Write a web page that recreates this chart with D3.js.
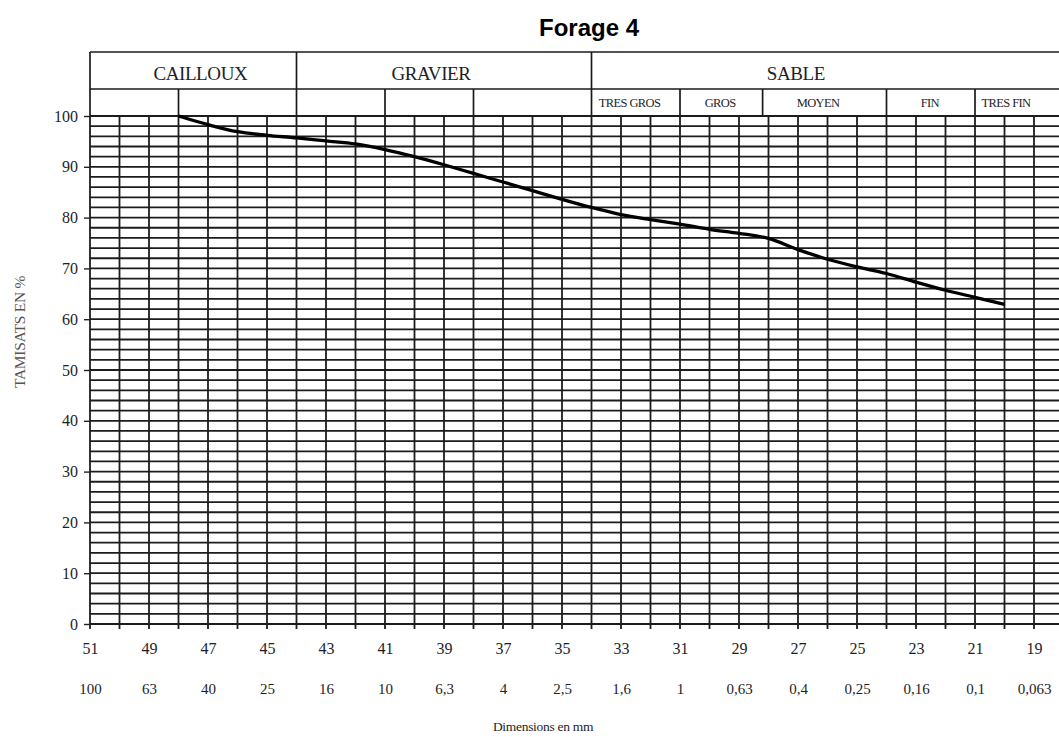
<!DOCTYPE html>
<html>
<head>
<meta charset="utf-8">
<script src="https://cdn.jsdelivr.net/npm/d3@7"></script>
<style>
  html, body { margin: 0; padding: 0; background: #fff; overflow: hidden; }
  svg { display: block; }
  text { fill: #1e1e28; }
</style>
</head>
<body>
<svg id="chart" width="1059" height="737"></svg>
<script>
// Module numbers (AFNOR) on the x axis and matching sieve openings in mm
const modules = [51, 49, 47, 45, 43, 41, 39, 37, 35, 33, 31, 29, 27, 25, 23, 21, 19];
const sieveSizes = ["100", "63", "40", "25", "16", "10", "6,3", "4", "2,5", "1,6", "1", "0,63", "0,4", "0,25", "0,16", "0,1", "0,063"];

// Cumulative passing (%) of the grading curve, by module
const curveModules = [48, 47, 46, 45, 44, 43, 42, 41, 40, 39, 38, 37, 36, 35, 34, 33, 32, 31, 30, 29, 28, 27, 26, 25, 24, 23, 22, 21, 20];
const curvePassing = [100, 98.3, 96.9, 96.2, 95.7, 95.1, 94.5, 93.4, 92.0, 90.4, 88.7, 87.0, 85.3, 83.6, 82.0, 80.6, 79.6, 78.7, 77.7, 76.9, 75.9, 73.7, 71.8, 70.3, 69.0, 67.3, 65.7, 64.3, 62.9];

// Soil class header: main classes and sand sub-classes
const mainClasses = ["CAILLOUX", "GRAVIER", "SABLE"];
const mainBounds = [51, 44, 34, 18];
const mainLabelAt = [47.26, 39.44, 27.07];
const subBounds = [51, 48, 44, 41, 38, 34, 31, 28.2, 24, 21, 18];
const sandClasses = ["TRES GROS", "GROS", "MOYEN", "FIN", "TRES FIN"];
const sandLabelAt = [32.71, 29.64, 26.32, 22.53, 19.95];

const yTicks = [0, 10, 20, 30, 40, 50, 60, 70, 80, 90, 100];

const svg = d3.select("#chart");

const x = d3.scaleLinear().domain([51, 18]).range([90, 1063.5]);
const y = d3.scaleLinear().domain([0, 100]).range([624, 116]);

const headTop = 52, headMid = 89, headBot = y(100);
const ink = "#1a1a1a";
const serif = "Liberation Serif, Times New Roman, serif";

// Title
svg.append("text")
  .attr("x", 589).attr("y", 36)
  .attr("text-anchor", "middle")
  .style("font-family", "Liberation Sans, Arial, sans-serif")
  .style("font-weight", "bold")
  .style("font-size", "24px")
  .style("fill", "#000")
  .text("Forage 4");

// Header table
const head = svg.append("g");
[headTop, headMid].forEach(yy => {
  head.append("line").attr("x1", x(51)).attr("x2", x(18)).attr("y1", yy).attr("y2", yy)
    .attr("stroke", ink).attr("stroke-width", 1.7);
});
head.selectAll(".mainDiv").data(mainBounds.slice(0, -1)).join("line")
  .attr("x1", d => x(d)).attr("x2", d => x(d)).attr("y1", headTop).attr("y2", headMid)
  .attr("stroke", ink).attr("stroke-width", 1.7);
head.selectAll(".subDiv").data(subBounds.slice(0, -1)).join("line")
  .attr("x1", d => x(d)).attr("x2", d => x(d)).attr("y1", headMid).attr("y2", headBot)
  .attr("stroke", ink).attr("stroke-width", 1.7);

head.selectAll(".mainLbl").data(mainClasses).join("text")
  .attr("x", (d, i) => x(mainLabelAt[i]))
  .attr("y", 80)
  .attr("text-anchor", "middle")
  .style("font-family", serif)
  .style("font-size", "19px")
  .style("letter-spacing", "-0.4px")
  .text(d => d);

head.selectAll(".sandLbl").data(sandClasses).join("text")
  .attr("x", (d, i) => x(sandLabelAt[i]))
  .attr("y", 107)
  .attr("text-anchor", "middle")
  .style("font-family", serif)
  .style("font-size", "12.5px")
  .style("letter-spacing", "-0.6px")
  .text(d => d);

// Grid: horizontal every 2 %, vertical every module
const grid = svg.append("g");
grid.selectAll(".h").data(d3.range(0, 101, 2)).join("line")
  .attr("x1", x(51)).attr("x2", x(18))
  .attr("y1", d => y(d)).attr("y2", d => y(d))
  .attr("stroke", "#1c1c1c").attr("stroke-width", 1.8);
grid.selectAll(".v").data(d3.range(51, 17, -1)).join("line")
  .attr("x1", d => x(d)).attr("x2", d => x(d))
  .attr("y1", y(100)).attr("y2", y(0) + 5)
  .attr("stroke", "#1c1c1c").attr("stroke-width", 1.8);

// Y axis
const yAxis = svg.append("g")
  .attr("transform", `translate(${x(51)},0)`)
  .call(d3.axisLeft(y).tickValues(yTicks).tickSize(6).tickPadding(6).tickFormat(d3.format("d")));
yAxis.select(".domain").remove();
yAxis.selectAll(".tick line").attr("stroke", "#222").attr("stroke-width", 1.4);
yAxis.selectAll("text")
  .style("font-family", serif)
  .style("font-size", "16px")
  .style("fill", "#1e1e28");

// X axis: module numbers
const xAxis1 = svg.append("g")
  .attr("transform", `translate(0,${y(0)})`)
  .call(d3.axisBottom(x).tickValues(modules).tickSize(0).tickPadding(19).tickFormat(d3.format("d")));
xAxis1.select(".domain").remove();
xAxis1.selectAll("text")
  .style("font-family", serif)
  .style("font-size", "16px")
  .style("fill", "#1e1e28");

// X axis: sieve openings
const xAxis2 = svg.append("g")
  .attr("transform", `translate(0,${y(0) + 40})`)
  .call(d3.axisBottom(x).tickValues(modules).tickSize(0).tickPadding(19)
    .tickFormat((d, i) => sieveSizes[i]));
xAxis2.select(".domain").remove();
xAxis2.selectAll("text")
  .style("font-family", serif)
  .style("font-size", "15px")
  .style("fill", "#1e1e28");

// Axis titles
svg.append("text")
  .attr("x", 543).attr("y", 731)
  .attr("text-anchor", "middle")
  .style("font-family", serif)
  .style("font-size", "13.5px")
  .style("letter-spacing", "-0.3px")
  .text("Dimensions en mm");

svg.append("text")
  .attr("transform", "translate(25,332) rotate(-90)")
  .attr("text-anchor", "middle")
  .style("font-family", serif)
  .style("font-size", "15.5px")
  .style("letter-spacing", "-0.3px")
  .style("fill", "#555")
  .text("TAMISATS EN %");

// Grading curve
const pts = curveModules.map((m, i) => [m, curvePassing[i]]);
svg.append("path")
  .datum(pts)
  .attr("fill", "none")
  .attr("stroke", "#000")
  .attr("stroke-width", 3.3)
  .attr("stroke-linejoin", "round")
  .attr("d", d3.line().x(d => x(d[0])).y(d => y(d[1])).curve(d3.curveMonotoneX));
</script>
</body>
</html>
